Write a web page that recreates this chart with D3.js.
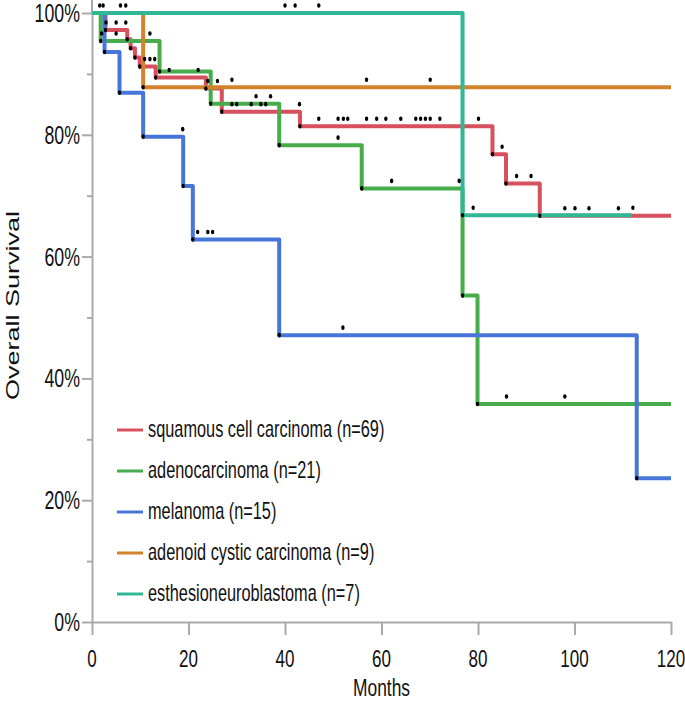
<!DOCTYPE html>
<html>
<head>
<meta charset="utf-8">
<script src="https://cdn.jsdelivr.net/npm/d3@7"></script>
<style>
body{margin:0;background:#fff;}
svg{display:block;}
</style>
</head>
<body>
<script>
const width=685;
const height=701;
const squish=0.71; // the picture's text is narrowed horizontally
const font="'Liberation Sans', Arial, Helvetica, sans-serif";

// axes
const monthTicks=[0,20,40,60,80,100,120];
const survTicks=[0,20,40,60,80,100];
const survMinorTicks=[10,30,50,70,90];

// legend
const seriesNames=['squamous cell carcinoma (n=69)','adenocarcinoma (n=21)','melanoma (n=15)','adenoid cystic carcinoma (n=9)','esthesioneuroblastoma (n=7)'];
const seriesColors=['#d6505e','#47ad4c','#4775d9','#d4822c','#30b896'];

// step curves: time (months) and survival (%) after each step
const squamousTime=[0,2.8,7.3,8.0,8.9,9.9,13.2,23.6,26.9,43.1,83.0,85.8,92.8,120];
const squamousSurv=[100,97.2,95.7,94.2,92.7,91.2,89.4,87.6,83.8,81.4,76.8,72.0,66.7,66.7];
const squamousCensor=[2.9,5.0,7.0,10.9,12.0,13.0,16.0,22.0,24.0,26.0,29.0,30.0,33.0,35.0,36.0,43.0,47.0,51.0,52.1,53.0,56.9,59.0,60.9,64.0,67.1,68.1,69.1,70.1,72.1,80.1,85.0,88.0,91.0,98.0,100.1,103.0,109.1];

const adenoTime=[0,1.8,14.0,24.6,38.8,55.9,76.8,79.9,120];
const adenoSurv=[100,95.4,90.4,85.1,78.3,71.2,53.6,35.8,35.8];
const adenoCensor=[2.0,5.0,12.0,34.0,37.0,51.0,62.1,76.1,85.9,98.0];

const melanomaTime=[0,2.6,5.7,10.6,18.9,20.9,38.8,112.9,120];
const melanomaSurv=[100,93.6,86.9,79.7,71.6,62.8,47.1,23.6,23.6];
const melanomaCensor=[18.8,21.9,24.0,25.0,52.0];

const adenoidTime=[0,10.6,120];
const adenoidSurv=[100,87.8,87.8];
const adenoidCensor=[29.0,56.9,70.1];

const esthesioTime=[0,76.8,111.9];
const esthesioSurv=[100,66.8,66.8];
const esthesioCensor=[1.6,2.3,5.9,7.0,40.0,42.1,47.0,79.0,112.1];

const curves=[
    {time:squamousTime,surv:squamousSurv,censor:squamousCensor},
    {time:adenoTime,surv:adenoSurv,censor:adenoCensor},
    {time:melanomaTime,surv:melanomaSurv,censor:melanomaCensor},
    {time:adenoidTime,surv:adenoidSurv,censor:adenoidCensor},
    {time:esthesioTime,surv:esthesioSurv,censor:esthesioCensor}
];

const x=d3.scaleLinear().domain([0,120]).range([92,671]);
const y=d3.scaleLinear().domain([0,100]).range([622,13]);

const svg=d3.select('body').append('svg')
    .attr('width',width)
    .attr('height',height)
    .style('font-family',font);

function survAt(c,t){
    let s=c.surv[0];
    c.time.forEach((tt,i)=>{ if(tt<=t) s=c.surv[i]; });
    return s;
}

function label(g,str,px,py,size,anchor){
    return g.append('text')
        .text(str)
        .attr('transform',`translate(${px},${py}) scale(${squish},1)`)
        .attr('text-anchor',anchor)
        .style('font-size',size+'px')
        .attr('fill','#111');
}

// y axis
const yAxis=svg.append('g').attr('transform','translate(92,0)')
    .call(d3.axisLeft(y).tickValues(survTicks).tickSize(10).tickSizeOuter(0).tickFormat(''));
const yMinor=svg.append('g').attr('transform','translate(92,0)')
    .call(d3.axisLeft(y).tickValues(survMinorTicks).tickSize(5).tickSizeOuter(0).tickFormat(''));
yMinor.select('.domain').remove();
svg.append('line').attr('x1',92).attr('x2',92).attr('y1',0).attr('y2',y(100));

// x axis
const xAxis=svg.append('g').attr('transform',`translate(0,${y(0)})`)
    .call(d3.axisBottom(x).tickValues(monthTicks).tickSize(13).tickSizeOuter(0).tickFormat(''));

svg.selectAll('.domain, .tick line, line').attr('stroke','#aaaaaa').attr('stroke-width',2);

survTicks.forEach(v=>label(svg,v+'%',80,y(v)+9,25,'end'));
monthTicks.forEach(v=>label(svg,v,x(v),667,24,'middle'));

label(svg,'Months',x(60),695.5,24.5,'middle');
svg.append('text').text('Overall Survival')
    .attr('transform',`translate(19,${y(50)-12}) scale(${squish},1) rotate(-90)`)
    .attr('text-anchor','middle')
    .style('font-size','27px')
    .attr('fill','#111');

// curves
const stepLine=d3.line().x(d=>x(d[0])).y(d=>y(d[1])).curve(d3.curveStepAfter);

curves.forEach((c,k)=>{
    svg.append('path')
        .attr('d',stepLine(c.time.map((t,i)=>[t,c.surv[i]])))
        .attr('fill','none')
        .attr('stroke',seriesColors[k])
        .attr('stroke-width',4)
        .attr('stroke-linejoin','round');
});

curves.forEach(c=>{
    // event dots at each drop
    c.time.forEach((t,i)=>{
        if(i===0||c.surv[i]===c.surv[i-1]) return;
        svg.append('ellipse').attr('cx',x(t)).attr('cy',y(c.surv[i])).attr('rx',1.7).attr('ry',2.3).attr('fill','#000');
    });
    // censored dots just above the line
    c.censor.forEach(t=>{
        svg.append('ellipse').attr('cx',x(t)).attr('cy',y(survAt(c,t))-7.5).attr('rx',1.7).attr('ry',2.3).attr('fill','#000');
    });
});

// legend
const legendY=[430,471,512,553,594];
seriesNames.forEach((n,k)=>{
    svg.append('line')
        .attr('x1',117).attr('x2',143)
        .attr('y1',legendY[k]).attr('y2',legendY[k])
        .attr('stroke',seriesColors[k])
        .attr('stroke-width',3);
    label(svg,n,148,legendY[k]+7,23,'start');
});
</script>
</body>
</html>
